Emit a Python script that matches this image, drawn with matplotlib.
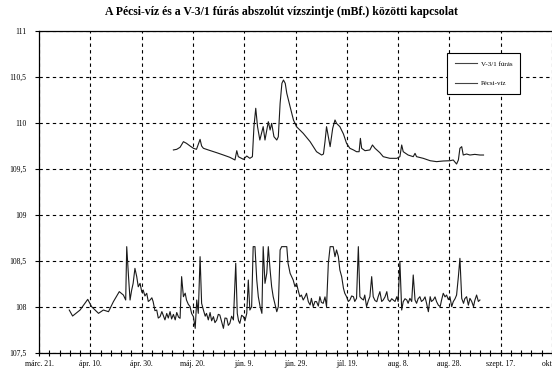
import matplotlib
matplotlib.use("Agg")
import matplotlib.pyplot as plt
import numpy as np

plt.rcParams['font.family'] = ['Liberation Serif', 'DejaVu Serif']

title = "A Pécsi-víz és a V-3/1 fúrás abszolút vízszintje (mBf.) közötti kapcsolat"
series_names = ["V-3/1 fúrás", "Pécsi-víz"]
x_tick_days = [0, 20, 40, 60, 80, 100, 120, 140, 160, 180, 200]
x_tick_labels = ["márc. 21.", "ápr. 10.", "ápr. 30.", "máj. 20.", "jún. 9.", "jún. 29.",
                 "júl. 19.", "aug. 8.", "aug. 28.", "szept. 17.", "okt. 7."]
y_ticks = [107.5, 108.0, 108.5, 109.0, 109.5, 110.0, 110.5, 111.0]
y_tick_labels = ["107,5", "108", "108,5", "109", "109,5", "110", "110,5", "111"]

# V-3/1 fúrás (days since márc. 21.)
v31_day = [52.4, 53.7, 55.0, 56.3, 57.5, 58.9, 60.2, 61.4, 62.8, 63.4, 64.1, 66.0, 69.3, 71.9, 74.4,
           76.4, 77.1, 77.7, 79.7, 81.0, 82.2, 83.2, 83.8, 84.5, 85.2, 86.1, 87.4, 88.1, 89.4, 90.1,
           90.7, 91.6, 92.7, 93.3, 94.0, 94.7, 95.3, 96.0, 96.6, 97.9, 99.2, 100.4, 103.0,
           105.7, 108.2, 110.2, 110.9, 111.5, 112.1, 112.8, 113.5, 114.5, 115.4, 116.0, 117.3,
           118.7, 119.9, 121.2, 122.6, 123.8, 124.8, 125.3, 125.8, 127.1, 129.0, 130.0, 131.0,
           132.9, 134.2, 136.8, 139.5, 140.7, 141.4, 142.0, 143.9, 145.9, 146.6, 147.2, 149.8,
           152.5, 155.0, 157.6, 160.2, 161.5, 162.8, 163.5, 164.1, 164.8, 165.4, 166.7, 168.0,
           169.9, 171.9, 173.3]
v31_val = [109.707, 109.714, 109.736, 109.797, 109.779, 109.750, 109.725, 109.714, 109.822, 109.750,
           109.725, 109.707, 109.677, 109.652, 109.627, 109.598, 109.699, 109.634, 109.605, 109.641,
           109.616, 109.634, 109.960, 110.160, 109.960, 109.815, 109.960, 109.815, 110.014, 109.924,
           109.996, 109.851, 109.815, 109.851, 110.214, 110.431, 110.467, 110.431, 110.323, 110.177,
           110.033, 109.960, 109.888, 109.797, 109.688, 109.652, 109.663, 109.797, 109.960, 109.851,
           109.743, 109.942, 110.033, 109.996, 109.960, 109.880, 109.779, 109.725, 109.707, 109.688,
           109.688, 109.833, 109.725, 109.699, 109.707, 109.761, 109.725, 109.677, 109.634, 109.616,
           109.616, 109.634, 109.761, 109.688, 109.652, 109.634, 109.670, 109.634, 109.616, 109.590,
           109.580, 109.587, 109.590, 109.598, 109.554, 109.598, 109.725, 109.743, 109.652, 109.663,
           109.652, 109.659, 109.652, 109.652]

# Pécsi-víz (days since márc. 21.)
pecsi_day = [11.8, 13.1, 16.0, 19.0, 20.5, 23.2, 25.1, 27.1, 29.0, 31.3, 32.9, 33.8, 34.2, 34.9, 35.5,
             36.1, 36.7, 37.4, 38.1, 38.7, 39.4, 40.1, 40.6, 41.3, 42.0, 42.6, 43.3, 44.0, 44.5, 45.2,
             45.9, 46.5, 47.2, 47.9, 48.4, 49.1, 49.8, 50.4, 51.1, 51.7, 52.4, 53.1, 53.7, 54.4, 55.0,
             55.6, 56.3, 57.0, 57.5, 58.2, 58.9, 59.5, 60.2, 60.9, 61.5, 62.1, 62.8, 63.4, 64.1, 64.8,
             65.3, 66.0, 66.7, 67.3, 68.0, 68.6, 69.3, 69.9, 70.5, 71.2, 71.9, 72.5, 73.2, 73.8, 74.4,
             75.1, 75.8, 76.7, 77.3, 77.8, 78.3, 79.0, 79.7, 80.3, 81.0, 81.6, 82.2, 82.9, 83.5, 84.2,
             84.9, 85.5, 86.2, 86.9, 87.4, 88.1, 88.8, 89.4, 90.1, 90.7, 91.3, 92.0, 92.7, 93.3, 94.0,
             94.6, 95.3, 95.9, 96.6, 97.1, 97.9, 98.5, 99.1, 99.8, 100.4, 101.0, 101.7, 102.3,
             103.0, 103.7, 104.3, 105.0, 105.7, 106.2, 106.9, 107.6, 108.2, 108.9, 109.5, 110.1, 110.8,
             111.5, 112.1, 112.8, 113.5, 114.0, 114.7, 115.4, 116.0, 116.7, 117.3, 118.0, 118.7, 119.2,
             119.9, 120.6, 121.2, 121.9, 122.6, 123.1, 123.8, 124.5, 125.1, 125.8, 126.5, 127.0, 127.7,
             128.4, 129.0, 129.7, 130.3, 131.0, 131.7, 132.2, 132.9, 133.6, 134.2, 134.9, 135.6, 136.1,
             136.8, 137.5, 138.1, 138.8, 139.5, 140.0, 140.7, 141.4, 142.0, 142.7, 143.4, 143.9, 144.6,
             145.3, 145.9, 146.6, 147.2, 147.8, 148.5, 149.1, 149.8, 150.5, 151.1, 151.8, 152.5, 153.0,
             153.7, 154.4, 155.0, 155.7, 156.4, 156.9, 157.6, 158.3, 158.9, 159.6, 160.2, 160.9, 161.5,
             162.2, 162.8, 163.5, 164.1, 164.8, 165.5, 166.0, 166.7, 167.4, 168.0, 168.7, 169.4, 169.9,
             170.6, 171.3, 171.9]
pecsi_val = [107.967, 107.902, 107.967, 108.083, 108.004, 107.931, 107.967, 107.949, 108.058, 108.167,
             108.130, 108.076, 108.656, 108.330, 108.076, 108.180, 108.257, 108.420, 108.330, 108.220,
             108.257, 108.160, 108.185, 108.120, 108.149, 108.060, 108.076, 108.100, 108.058, 107.960,
             107.967, 107.880, 107.895, 107.950, 107.913, 107.860, 107.930, 107.880, 107.950, 107.870,
             107.920, 107.860, 107.940, 107.890, 107.877, 108.330, 108.112, 108.150, 108.076, 108.030,
             108.004, 107.930, 107.895, 107.768, 108.076, 107.931, 108.547, 108.040, 107.967, 107.900,
             107.931, 107.860, 107.940, 107.850, 107.895, 107.830, 107.859, 107.920, 107.913, 107.840,
             107.768, 107.880, 107.877, 107.800, 107.822, 107.900, 107.859, 108.475, 107.931, 107.850,
             107.822, 107.910, 107.895, 107.850, 107.931, 108.293, 107.967, 108.004, 108.656, 108.656,
             108.293, 108.112, 108.004, 107.931, 108.656, 108.257, 108.366, 108.656, 108.402, 108.221,
             108.112, 108.030, 107.949, 108.004, 108.620, 108.656, 108.656, 108.656, 108.656, 108.475,
             108.366, 108.330, 108.293, 108.221, 108.257, 108.185, 108.112, 108.130, 108.076, 108.110,
             108.149, 108.058, 108.022, 108.094, 108.004, 108.060, 108.058, 108.010, 108.112, 108.050,
             108.040, 108.110, 108.004, 108.475, 108.656, 108.656, 108.656, 108.547, 108.620, 108.550,
             108.402, 108.330, 108.203, 108.150, 108.112, 108.060, 108.076, 108.120, 108.112, 108.060,
             108.094, 108.656, 108.112, 108.090, 108.076, 108.130, 108.004, 108.070, 108.112, 108.330,
             108.112, 108.070, 108.058, 108.110, 108.167, 108.060, 108.076, 108.110, 108.167, 108.080,
             108.058, 108.090, 108.076, 108.060, 108.112, 108.060, 108.493, 107.967, 108.058, 108.090,
             108.076, 108.040, 108.094, 108.060, 108.348, 108.076, 108.040, 108.090, 108.112, 108.060,
             108.076, 108.110, 108.040, 107.949, 108.112, 108.060, 108.076, 108.110, 108.058, 108.020,
             108.004, 108.070, 108.149, 108.110, 108.130, 108.080, 108.112, 108.004, 108.058, 108.090,
             108.130, 108.330, 108.529, 108.094, 108.040, 108.090, 108.112, 108.020, 108.094, 108.060,
             108.004, 108.070, 108.130, 108.060, 108.076]

W, H = 552, 371
fig = plt.figure(figsize=(W / 100, H / 100), dpi=100)
left_px, right_px, top_px, bottom_px = 39, 552, 31, 353
ax = fig.add_axes([left_px / W, 1 - bottom_px / H, (right_px - left_px) / W, (bottom_px - top_px) / H])

ax.plot(v31_day, v31_val, color='#1a1a1a', lw=0.8, label=series_names[0])
ax.plot(pecsi_day, pecsi_val, color='#1a1a1a', lw=0.8, label=series_names[1])

ax.set_xlim(0, 200)
ax.set_ylim(107.5, 111.0)

ax.set_xticks(x_tick_days)
ax.set_xticklabels(x_tick_labels, fontsize=5.5)
ax.set_xticks(np.arange(0, 201, 4), minor=True)
ax.set_yticks(y_ticks)
ax.set_yticklabels(y_tick_labels, fontsize=5.5)

ax.tick_params(axis='x', which='both', direction='inout', length=5, width=0.8, pad=2.5)
ax.tick_params(axis='y', which='major', direction='out', length=3, width=0.8, pad=6)

ax.grid(True, which='major', color='black', linestyle=(0, (3, 3)), linewidth=0.8)
for s in ['left', 'bottom', 'top']:
    ax.spines[s].set_linewidth(0.9)
ax.spines['right'].set_visible(False)

leg = ax.legend(loc='upper left', bbox_to_anchor=((447 - left_px) / (right_px - left_px), (bottom_px - 53) / (bottom_px - top_px)),
                borderaxespad=0, fontsize=5, frameon=True, fancybox=False, shadow=False,
                handlelength=3.2, handletextpad=0.6, labelspacing=2.0, borderpad=1.1)
leg.get_frame().set_edgecolor('black')
leg.get_frame().set_linewidth(0.8)
leg.get_frame().set_alpha(1)
for line in leg.get_lines():
    line.set_color('#444444')

fig.text(281 / W, 1 - 12 / H, title, ha='center', va='center', fontsize=8.5, fontweight='bold')

fig.savefig('out.png', dpi=100)
